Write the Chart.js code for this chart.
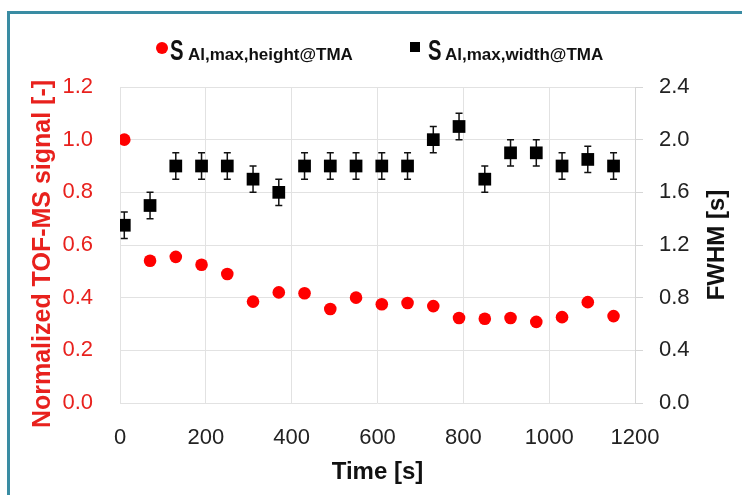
<!DOCTYPE html>
<html>
<head>
<meta charset="utf-8">
<script src="https://cdn.jsdelivr.net/npm/chart.js@4"></script>
<style>
  body { margin: 0; background: #fff; }
  #wrap { position: relative; width: 742px; height: 495px; overflow: hidden; font-family: "Liberation Sans", Arial, sans-serif; }
  #frame { position: absolute; left: 7px; top: 11px; width: 800px; height: 600px; border-left: 3px solid #3a8ca3; border-top: 3px solid #3a8ca3; }
  canvas { position: absolute; left: 0; top: 0; }
  .leg { position: absolute; top: 36px; display: flex; align-items: baseline; line-height: 1; color: #111; }
  .big { font-size: 29px; font-weight: bold; display: inline-block; transform: scaleX(0.7); transform-origin: left; }
  .sub { font-size: 17px; font-weight: bold; }
  .dot { position: absolute; left: 156px; top: 42px; width: 12px; height: 12px; border-radius: 50%; background: #ff0000; }
  .sq { position: absolute; left: 410px; top: 42px; width: 10px; height: 10px; background: #000; }
</style>
</head>
<body>
<div id="wrap">
  <div id="frame"></div>
  <canvas id="chart" width="742" height="495"></canvas>
  <div class="dot"></div>
  <div class="leg" style="left:170px"><span class="big" style="width:18px">S</span><span class="sub">Al,max,height@TMA</span></div>
  <div class="sq"></div>
  <div class="leg" style="left:428px"><span class="big" style="width:17px">S</span><span class="sub">Al,max,width@TMA</span></div>
</div>
<script>
const times = [10, 70, 130, 190, 250, 310, 370, 430, 490, 550, 610, 670, 730, 790, 850, 910, 970, 1030, 1090, 1150];
const signalHeight = [1.0, 0.54, 0.555, 0.525, 0.49, 0.385, 0.42, 0.417, 0.357, 0.40, 0.375, 0.38, 0.368, 0.323, 0.32, 0.323, 0.308, 0.326, 0.383, 0.33];
const fwhmWidth = [1.35, 1.5, 1.8, 1.8, 1.8, 1.7, 1.6, 1.8, 1.8, 1.8, 1.8, 1.8, 2.0, 2.1, 1.7, 1.9, 1.9, 1.8, 1.85, 1.8];
const fwhmError = [0.1, 0.1, 0.1, 0.1, 0.1, 0.1, 0.1, 0.1, 0.1, 0.1, 0.1, 0.1, 0.1, 0.1, 0.1, 0.1, 0.1, 0.1, 0.1, 0.1];
const xTicks = [0, 200, 400, 600, 800, 1000, 1200];
const leftTicks = [0, 0.2, 0.4, 0.6, 0.8, 1.0, 1.2];
const rightTicks = [0, 0.4, 0.8, 1.2, 1.6, 2.0, 2.4];

const red = "#e8211d";
const gridColor = "#e2e2e2";
Chart.defaults.font.family = '"Liberation Sans", Arial, sans-serif';

// error bars on the FWHM squares, drawn under the markers
const errorBars = {
    id: "errorBars",
    beforeDatasetsDraw(chart) {
        const ctx = chart.ctx;
        const x = chart.scales.x;
        const y2 = chart.scales.y2;
        ctx.save();
        ctx.strokeStyle = "#111";
        ctx.lineWidth = 1.5;
        times.forEach((t, i) => {
            const px = x.getPixelForValue(t);
            const top = y2.getPixelForValue(fwhmWidth[i] + fwhmError[i]);
            const bot = y2.getPixelForValue(fwhmWidth[i] - fwhmError[i]);
            ctx.beginPath();
            ctx.moveTo(px, top);
            ctx.lineTo(px, bot);
            ctx.moveTo(px - 3.5, top);
            ctx.lineTo(px + 3.5, top);
            ctx.moveTo(px - 3.5, bot);
            ctx.lineTo(px + 3.5, bot);
            ctx.stroke();
        });
        ctx.restore();
    },
};

// both y titles read bottom-to-top
const yTitles = {
    id: "yTitles",
    afterDraw(chart) {
        const ctx = chart.ctx;
        const area = chart.chartArea;
        const mid = (area.top + area.bottom) / 2;
        ctx.save();
        ctx.textAlign = "center";
        ctx.textBaseline = "middle";
        ctx.font = 'bold 25px "Liberation Sans", Arial, sans-serif';
        ctx.fillStyle = red;
        ctx.translate(chart.scales.y.left + 43, mid + 9);
        ctx.rotate(-Math.PI / 2);
        ctx.fillText("Normalized TOF-MS signal [-]", 0, 0);
        ctx.restore();

        ctx.save();
        ctx.textAlign = "center";
        ctx.textBaseline = "middle";
        ctx.font = 'bold 24px "Liberation Sans", Arial, sans-serif';
        ctx.fillStyle = "#111";
        ctx.translate(chart.scales.y2.right - 25, mid);
        ctx.rotate(-Math.PI / 2);
        ctx.fillText("FWHM [s]", 0, 0);
        ctx.restore();
    },
};

new Chart(document.getElementById("chart"), {
    type: "scatter",
    data: {
        datasets: [
            {
                label: "S Al,max,height@TMA",
                data: times.map((t, i) => ({ x: t, y: signalHeight[i] })),
                yAxisID: "y",
                pointStyle: "circle",
                pointRadius: 6.3,
                borderWidth: 0,
                backgroundColor: "#ff0000",
            },
            {
                label: "S Al,max,width@TMA",
                data: times.map((t, i) => ({ x: t, y: fwhmWidth[i] })),
                yAxisID: "y2",
                pointStyle: "rect",
                pointRadius: 9,
                borderWidth: 0,
                backgroundColor: "#000",
            },
        ],
    },
    options: {
        responsive: false,
        animation: false,
        layout: { padding: { top: 87 } },
        plugins: { legend: { display: false }, tooltip: { enabled: false } },
        scales: {
            x: {
                type: "linear",
                min: 0,
                max: 1200,
                afterBuildTicks: (s) => { s.ticks = xTicks.map((v) => ({ value: v })); },
                afterFit: (s) => { s.height = 92; },
                grid: { color: gridColor, drawTicks: false },
                border: { display: false },
                ticks: { color: "#222", font: { size: 22 }, padding: 22, callback: (v) => String(v) },
                title: {
                    display: true,
                    text: "Time [s]",
                    color: "#111",
                    font: { size: 24, weight: "bold" },
                    padding: { top: 0, bottom: 8 },
                },
            },
            y: {
                position: "left",
                min: 0,
                max: 1.2,
                afterBuildTicks: (s) => { s.ticks = leftTicks.map((v) => ({ value: v })); },
                afterFit: (s) => { s.width = 120; },
                grid: { color: gridColor, drawTicks: false },
                border: { display: false },
                ticks: { color: red, font: { size: 22 }, padding: 27, callback: (v) => v.toFixed(1) },
            },
            y2: {
                position: "right",
                min: 0,
                max: 2.4,
                afterBuildTicks: (s) => { s.ticks = rightTicks.map((v) => ({ value: v })); },
                afterFit: (s) => { s.width = 107; },
                grid: { drawOnChartArea: false, drawTicks: true, tickLength: 8, color: "#d6d6d6" },
                border: { display: true, color: "#d6d6d6" },
                ticks: { color: "#222", font: { size: 22 }, padding: 16, callback: (v) => v.toFixed(1) },
            },
        },
    },
    plugins: [errorBars, yTitles],
});
</script>
</body>
</html>
